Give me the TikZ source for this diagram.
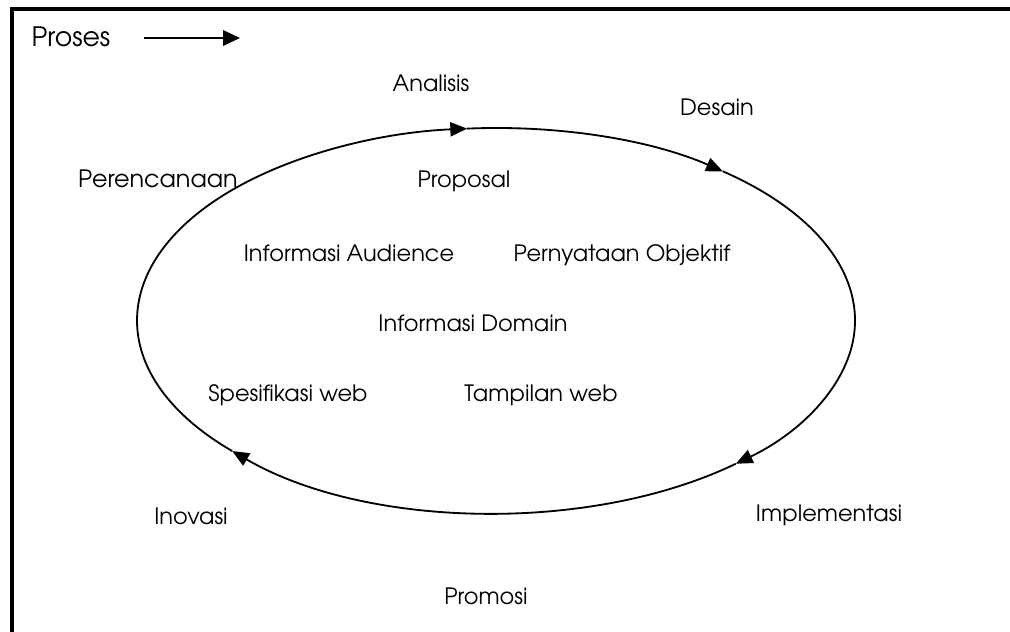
\documentclass[tikz,border=0pt]{standalone}
\usepackage{fontspec}
\setmainfont{TeX Gyre Adventor}
\usetikzlibrary{positioning,arrows.meta}

\begin{document}
\begin{tikzpicture}[x=0.025cm,y=0.025cm,font=\fontsize{16}{18}\selectfont]
    \tikzstyle{phase} = [anchor=base,inner sep=0pt]
    \tikzstyle{product} = [anchor=base,inner sep=0pt]
    \tikzstyle{cycle} = [line width=1.3pt,-{Triangle[length=12pt,width=10pt]}]
      \useasboundingbox (0,0) rectangle (1010,631);
      % frame, only left and top
      \draw[line width=2.8pt] (12,-5) -- (12,622) -- (1015,622);
      \node[phase,font=\fontsize{19}{21}\selectfont] (proses) at (71,584) {Proses};
      \coordinate (prosesA) at (144,593);
      \coordinate (prosesB) at (240,593);
      \draw[line width=1.3pt,-{Triangle[length=12pt,width=11pt]}] (prosesA) -- (prosesB);
      \node[phase] (analisis) at (431,539) {Analisis};
      \node[phase] (desain) at (717,515) {Desain};
      \node[phase,font=\fontsize{17}{19}\selectfont] (perencanaan) at (158,443) {Perencanaan};
      \node[phase] (inovasi) at (191,107) {Inovasi};
      \node[phase] (implementasi) at (829,110) {Implementasi};
      \node[phase] (promosi) at (486,27) {Promosi};
      \node[product] (proposal) at (464,443) {Proposal};
      \node[product] (audience) at (349,369) {Informasi Audience};
      \node[product] (objektif) at (622,369) {Pernyataan Objektif};
      \node[product] (domain) at (473,299) {Informasi Domain};
      \node[product] (spesifikasi) at (288,229) {Spesifikasi web};
      \node[product] (tampilan) at (541,229) {Tampilan web};
      % the cycle, clockwise
      \coordinate (ctr) at (496,310.5);
      \foreach \s/\e in {94.6/50.8,50.8/-48.1,-48.1/-137.3,-137.3/-265.4}
        \draw[cycle] (ctr) ++(\s:359 and 192.5) arc[start angle=\s,end angle=\e,x radius=359,y radius=192.5];
  \end{tikzpicture}
\end{document}
